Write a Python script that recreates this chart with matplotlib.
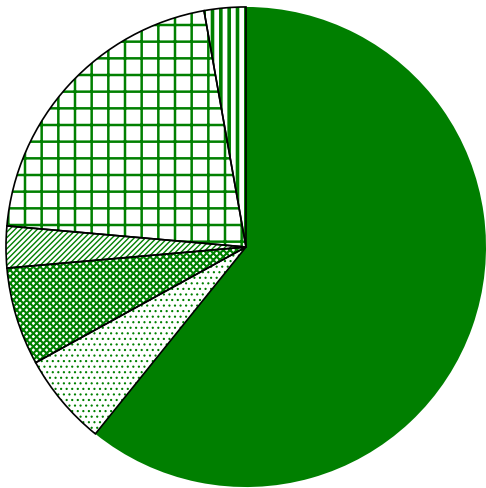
import matplotlib.pyplot as plt

# slice shares (percent), clockwise from 12 o'clock
labels = ['A', 'B', 'C', 'D', 'E', 'F']
values = [60.8, 6.2, 6.6, 2.8, 20.8, 2.8]
hatches = ['', '...', 'xxxxx', '//////', '+', '||']
hatch_lw = [1.0, 0.8, 1.5, 1.0, 1.8, 2.6]
faces = ['#007f00', 'white', 'white', 'white', 'white', 'white']

fig = plt.figure(figsize=(4.86, 4.88), dpi=100)
ax = fig.add_axes([0, 0, 1, 1])

wedges, _ = ax.pie(values, startangle=90, counterclock=False, colors=faces,
                   radius=1.0, wedgeprops=dict(linewidth=0, edgecolor='#008000'))
for w, h, lw in zip(wedges, hatches, hatch_lw):
    w.set_hatch(h)
    if hasattr(w, 'set_hatch_linewidth'):
        w.set_hatch_linewidth(lw)
    else:
        w._hatch_linewidth = lw

# black outlines on the hatched slices only
outl, _ = ax.pie(values, startangle=90, counterclock=False, radius=1.0,
                 wedgeprops=dict(fill=False, linewidth=1.2, edgecolor='black'))
outl[0].set_visible(False)

ax.set_xlim(-1.025, 1.0)
ax.set_ylim(-1.004, 1.029)
ax.set_aspect('auto')
ax.axis('off')

plt.savefig('out.png', dpi=100)
